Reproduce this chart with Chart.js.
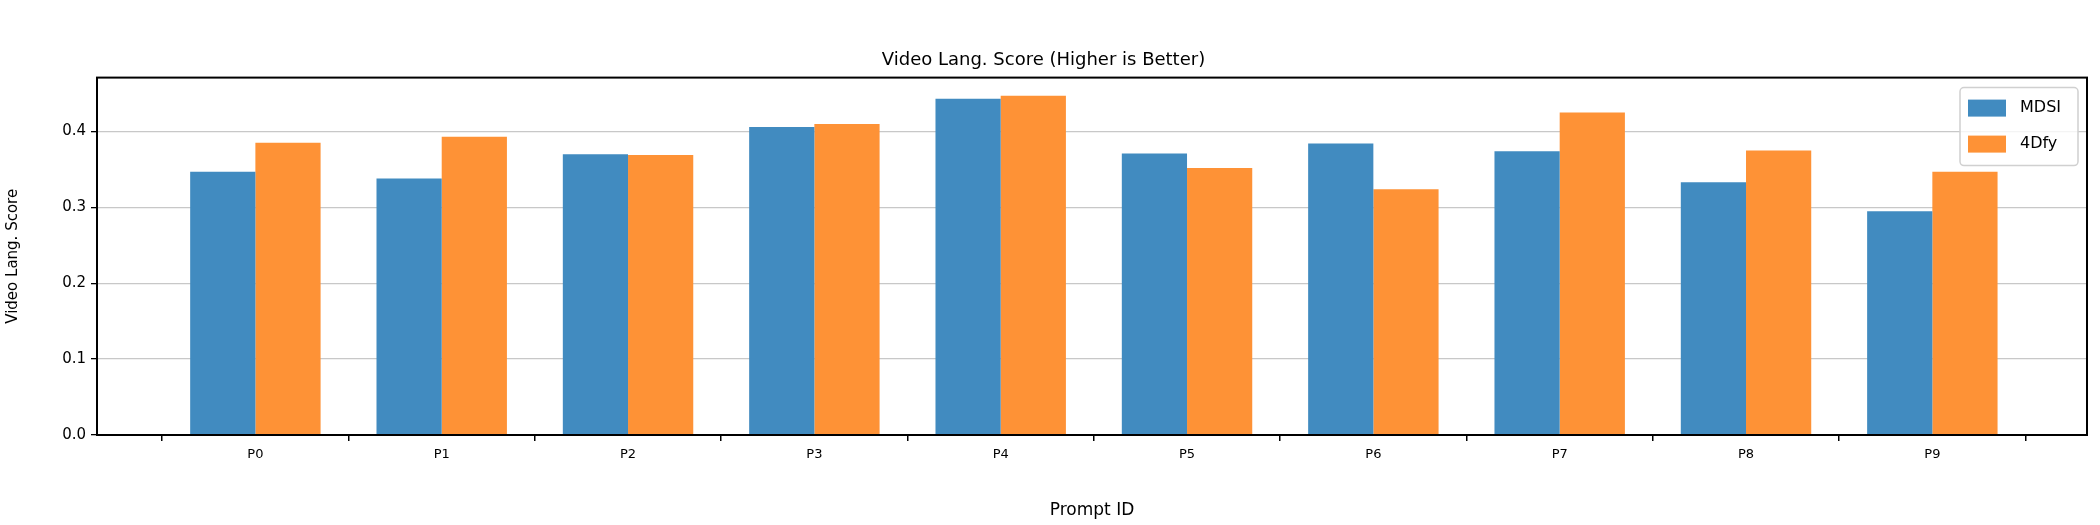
<!DOCTYPE html>
<html><head><meta charset="utf-8">
<script src="https://cdn.jsdelivr.net/npm/chart.js@4"></script>
<style>body{margin:0;background:#fff}#wrap{width:2100px;height:525px}</style>
</head><body><div id="wrap"><canvas id="c"></canvas></div>
<script>
const prompts = ['P0','P1','P2','P3','P4','P5','P6','P7','P8','P9'];
const mdsi = [0.347, 0.338, 0.370, 0.406, 0.443, 0.371, 0.384, 0.374, 0.333, 0.295];
const fourDfy = [0.385, 0.393, 0.369, 0.410, 0.447, 0.352, 0.324, 0.425, 0.375, 0.347];
const yTicks = [0, 0.1, 0.2, 0.3, 0.4];

const BLUE = '#418bc0', ORANGE = '#fe9236';
const FONT = "'DejaVu Sans', sans-serif";

// frame around plot + legend box inside the top-right corner
const framePlugin = {
  id: 'frame',
  afterDraw(chart) {
    const { ctx, chartArea: a } = chart;
    ctx.save();
    ctx.strokeStyle = '#000'; ctx.lineWidth = 2;
    ctx.strokeRect(a.left, a.top, a.right - a.left, a.bottom - a.top);
    const w = 118, h = 78, x = a.right - w - 9, y = a.top + 10;
    ctx.fillStyle = 'rgba(255,255,255,0.8)';
    ctx.strokeStyle = '#d0d0d0'; ctx.lineWidth = 1.5;
    ctx.beginPath(); ctx.roundRect(x, y, w, h, 4); ctx.fill(); ctx.stroke();
    ctx.font = '16px ' + FONT; ctx.textBaseline = 'middle';
    chart.data.datasets.forEach((ds, i) => {
      const ry = y + 20 + i * 36;
      ctx.fillStyle = ds.backgroundColor;
      ctx.fillRect(x + 8, ry - 8, 38, 17);
      ctx.fillStyle = '#000';
      ctx.fillText(ds.label, x + 60, ry);
    });
    ctx.restore();
  }
};

new Chart(document.getElementById('c'), {
  type: 'bar',
  data: {
    datasets: [
      { label: 'MDSI', data: prompts.map((p, i) => ({ x: i, y: mdsi[i] })), backgroundColor: BLUE },
      { label: '4Dfy', data: prompts.map((p, i) => ({ x: i, y: fourDfy[i] })), backgroundColor: ORANGE }
    ]
  },
  options: {
    responsive: true, maintainAspectRatio: false, animation: false,
    categoryPercentage: 0.7, barPercentage: 1.0,
    layout: { padding: { left: 0, right: 13, top: 0, bottom: 0 } },
    plugins: {
      legend: { display: false },
      tooltip: { enabled: false },
      title: {
        display: true, text: 'Video Lang. Score (Higher is Better)',
        color: '#000', font: { family: FONT, size: 18, weight: 'normal' },
        padding: { top: 50, bottom: 6 }
      }
    },
    scales: {
      x: {
        type: 'linear', min: -0.85, max: 9.83, offset: false,
        afterBuildTicks: s => { s.ticks = prompts.map((p, i) => ({ value: i })); },
        afterFit: s => { s.height = 90; },
        ticks: { color: '#000', font: { family: FONT, size: 13 }, padding: 6, callback: v => prompts[v] },
        grid: { display: true, drawOnChartArea: false, color: '#000', tickLength: 6, lineWidth: 1.5 },
        border: { display: false },
        title: { display: true, text: 'Prompt ID', color: '#000', font: { family: FONT, size: 17 }, padding: { top: 8 } }
      },
      y: {
        min: 0, max: 0.471,
        afterBuildTicks: s => { s.ticks = yTicks.map(v => ({ value: v })); },
        afterFit: s => { s.width = 97; },
        ticks: { color: '#000', font: { family: FONT, size: 15 }, padding: 5, callback: v => v.toFixed(1) },
        grid: { color: '#c8c8c8', lineWidth: 1.3, borderDash: [2, 3], tickColor: '#000', tickBorderDash: [], tickLength: 6 },
        border: { display: false },
        title: { display: true, text: 'Video Lang. Score', color: '#000', font: { family: FONT, size: 15 }, padding: { bottom: 8 } }
      }
    }
  },
  plugins: [framePlugin]
});
</script></body></html>
